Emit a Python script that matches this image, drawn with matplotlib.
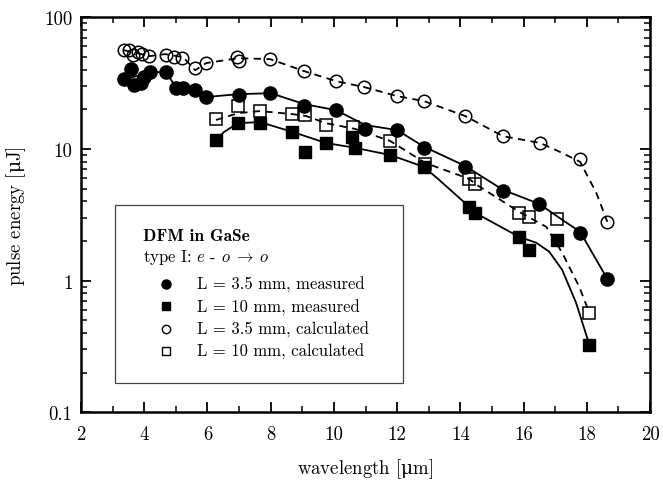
import matplotlib.pyplot as plt
from matplotlib.ticker import LogLocator, NullFormatter, MultipleLocator
from matplotlib.patches import Rectangle

plt.rcParams['font.family'] = ['cmr10', 'DejaVu Serif']
plt.rcParams['mathtext.fontset'] = 'cm'
plt.rcParams['axes.unicode_minus'] = False

# measured, L = 3.5 mm (filled circles)
meas35_x = [3.36, 3.57, 3.68, 3.89, 3.99, 4.17, 4.68, 5.0, 5.23, 5.6, 5.95,
            7.0, 7.98, 9.06, 10.07, 10.99, 12.0, 12.85, 14.15, 15.35, 16.5, 17.8, 18.65]
meas35_y = [33.9, 40.4, 30.5, 31.8, 35.3, 38.1, 38.1, 28.8, 28.8, 28.0, 24.9,
            25.7, 26.7, 21.2, 19.7, 14.1, 13.9, 10.1, 7.35, 4.83, 3.81, 2.32, 1.03]

# measured, L = 10 mm (filled squares)
meas10_x = [6.27, 6.97, 7.66, 8.68, 9.07, 9.75, 10.57, 10.67, 11.78, 12.85,
            14.28, 14.47, 15.86, 16.18, 17.06, 18.08]
meas10_y = [11.7, 15.7, 15.7, 13.5, 9.4, 11.1, 12.4, 10.1, 9.0, 7.3,
            3.64, 3.27, 2.15, 1.72, 2.05, 0.327]

# calculated, L = 3.5 mm (open circles)
calc35_x = [3.36, 3.52, 3.65, 3.81, 3.94, 4.15, 4.68, 4.94, 5.21, 5.61, 5.95,
            6.95, 7.0, 7.98, 9.05, 10.06, 10.96, 12.0, 12.85, 14.15, 15.35, 16.52, 17.8, 18.65]
calc35_y = [56.2, 56.2, 51.5, 54.6, 52.2, 50.9, 51.5, 50.0, 49.1, 40.9, 44.6,
            49.7, 46.5, 48.0, 39.0, 32.7, 29.5, 25.2, 23.1, 17.8, 12.6, 11.1, 8.4, 2.8]

# calculated, L = 10 mm (open squares)
calc10_x = [6.26, 6.98, 7.66, 8.67, 9.09, 9.74, 10.61, 11.78, 12.88, 14.28,
            14.47, 15.86, 16.16, 17.06, 18.08]
calc10_y = [16.8, 21.2, 19.5, 18.4, 18.0, 15.2, 14.6, 11.5, 7.7, 5.93,
            5.43, 3.27, 3.05, 2.95, 0.57]

# guide lines
fit_meas35_x = [3.36, 3.9, 4.18, 4.69, 5.0, 5.61, 5.96, 7.0, 8.01, 9.06, 10.07, 10.99,
                12.0, 12.85, 14.15, 15.35, 16.49, 17.22, 17.79, 18.3, 18.65]
fit_meas35_y = [33.9, 36.4, 38.3, 38.3, 29.5, 28.0, 24.8, 26.1, 26.5, 21.9, 19.7, 15.2,
                13.9, 10.4, 7.43, 4.89, 3.83, 2.90, 2.35, 1.44, 1.03]

fit_meas10_x = [6.27, 6.53, 6.97, 7.66, 8.68, 9.75, 10.67, 11.78, 12.85, 13.33,
                14.28, 14.47, 15.86, 16.4, 16.81, 17.22, 17.66, 18.08]
fit_meas10_y = [11.7, 13.5, 15.7, 16.0, 13.5, 11.1, 10.2, 9.0, 7.31, 5.82,
                3.64, 3.27, 2.15, 1.94, 1.66, 1.21, 0.68, 0.327]

fit_calc35_x = [3.36, 4.18, 4.66, 5.23, 5.61, 5.96, 6.97, 7.98, 9.06, 10.07, 10.96,
                12.0, 12.85, 14.15, 15.35, 16.53, 17.22, 17.79, 18.3, 18.65]
fit_calc35_y = [56.2, 50.7, 52.5, 49.8, 39.6, 44.9, 48.9, 48.1, 39.0, 32.7, 29.5,
                25.2, 23.1, 17.8, 12.5, 11.1, 9.33, 7.98, 4.65, 2.80]

fit_calc10_x = [6.27, 6.97, 7.66, 8.68, 9.12, 9.75, 10.67, 11.78, 12.89, 14.28,
                14.47, 15.86, 16.15, 16.72, 17.22, 17.76, 18.08]
fit_calc10_y = [16.6, 18.7, 19.4, 18.4, 17.8, 15.7, 14.2, 11.5, 7.83, 5.93,
                5.43, 3.33, 3.05, 2.56, 1.63, 0.90, 0.57]

legend_labels = ['L = 3.5 mm, measured', 'L = 10 mm, measured',
                 'L = 3.5 mm, calculated', 'L = 10 mm, calculated']


def main():
    fig = plt.figure(figsize=(6.63, 4.81), dpi=100)
    ax = fig.add_axes([0.1222, 0.1407, 0.8582, 0.8213])

    lw = 1.3
    ax.plot(fit_meas35_x, fit_meas35_y, color='k', lw=lw)
    ax.plot(fit_meas10_x, fit_meas10_y, color='k', lw=lw)
    ax.plot(fit_calc35_x, fit_calc35_y, color='k', lw=lw, ls='--', dashes=(4, 3))
    ax.plot(fit_calc10_x, fit_calc10_y, color='k', lw=lw, ls='--', dashes=(4, 3))

    ax.plot(meas35_x, meas35_y, 'o', color='k', ms=9.5, ls='none', zorder=3)
    ax.plot(meas10_x, meas10_y, 's', color='k', ms=8.5, ls='none', zorder=3)
    ax.plot(calc35_x, calc35_y, 'o', mfc='none', mec='k', mew=1.1, ms=9, ls='none', zorder=3)
    ax.plot(calc10_x, calc10_y, 's', mfc='none', mec='k', mew=1.1, ms=8, ls='none', zorder=3)

    ax.set_yscale('log')
    ax.set_xlim(2, 20)
    ax.set_ylim(0.1, 100)
    ax.set_xticks(range(2, 21, 2))
    ax.xaxis.set_minor_locator(MultipleLocator(1))
    ax.set_yticks([0.1, 1, 10, 100], labels=['0.1', '1', '10', '100'])
    ax.yaxis.set_minor_locator(LogLocator(subs=range(2, 10)))
    ax.yaxis.set_minor_formatter(NullFormatter())
    ax.tick_params(which='both', direction='in', top=True, right=True, labelsize=13.5)
    ax.tick_params(which='major', length=7, width=1.3)
    ax.tick_params(which='minor', length=4, width=1.1)
    ax.tick_params(axis='x', pad=9)
    ax.tick_params(axis='y', pad=6)
    for s in ax.spines.values():
        s.set_linewidth(1.8)

    # cmr10 has no usable micro sign, take it from DejaVu Serif via mathtext
    ax.set_xlabel(r'wavelength [$\mathrm{\mu}$m]', fontsize=13.5, labelpad=10,
                  math_fontfamily='dejavuserif')
    ax.set_ylabel(r'pulse energy [$\mathrm{\mu}$J]', fontsize=13.5, labelpad=12,
                  math_fontfamily='dejavuserif')

    # legend box, drawn by hand
    ax.add_patch(Rectangle((0.0598, 0.0742), 0.506, 0.451, transform=ax.transAxes,
                           fill=False, ec='#444444', lw=0.9, zorder=4))
    ax.text(0.1095, 0.447, 'DFM in GaSe', transform=ax.transAxes, family='cmb10',
            fontsize=12.5, va='center', ha='left')
    ax.text(0.1095, 0.395, r'type I: $e$ - $o\;\rightarrow\;o$', transform=ax.transAxes,
            fontsize=12, va='center', ha='left')
    rows = [0.325, 0.268, 0.211, 0.156]
    styles = [dict(marker='o', color='k', ms=6.5),
              dict(marker='s', color='k', ms=6),
              dict(marker='o', mfc='none', mec='k', mew=1, ms=6),
              dict(marker='s', mfc='none', mec='k', mew=1, ms=5.5)]
    for yy, st, lab in zip(rows, styles, legend_labels):
        ax.plot([0.149], [yy], transform=ax.transAxes, ls='none', clip_on=False, zorder=5, **st)
        ax.text(0.203, yy, lab, transform=ax.transAxes, fontsize=12, va='center', ha='left')

    fig.savefig('out.png', dpi=100)


if __name__ == '__main__':
    main()
